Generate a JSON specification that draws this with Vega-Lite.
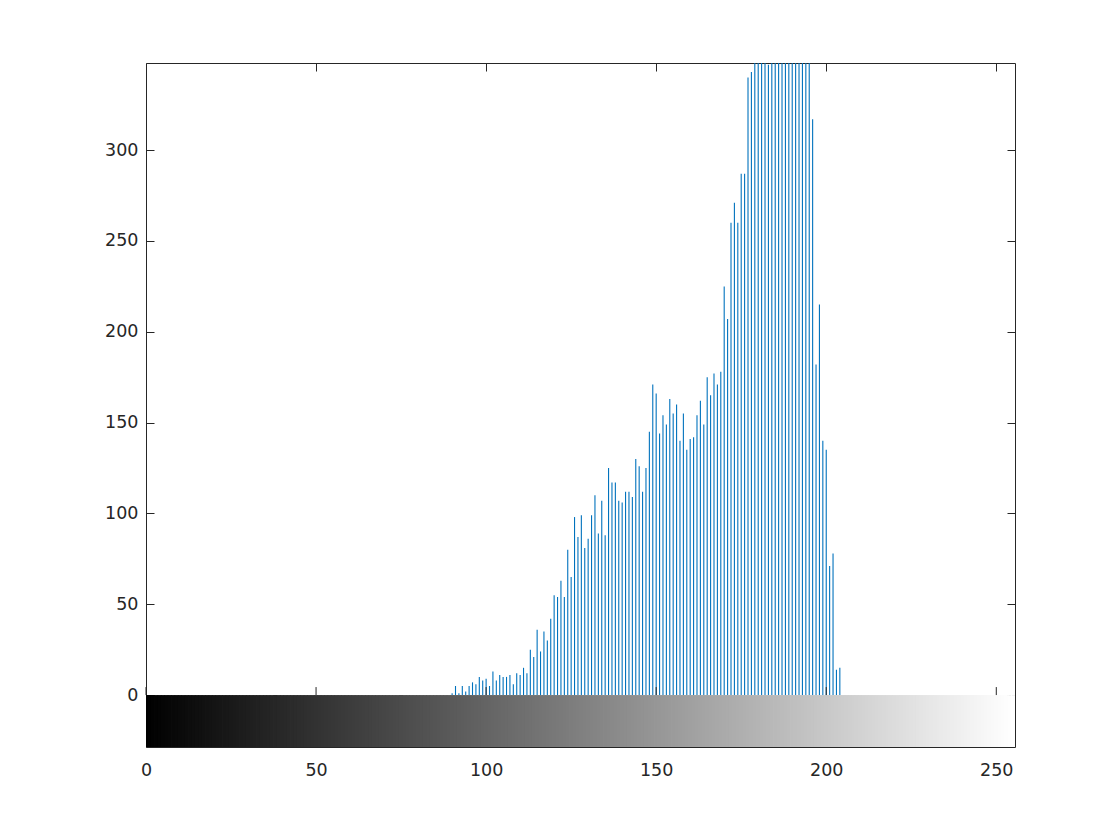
{
  "$schema": "https://vega.github.io/schema/vega-lite/v6.json",
  "autosize": {"type": "none"},
  "padding": {"left": 146, "top": 63, "right": 105, "bottom": 93},
  "width": 869,
  "height": 684,
  "background": "#ffffff",
  "config": {
    "view": {"stroke": null},
    "axis": {
      "grid": false,
      "title": null,
      "domainColor": "#262626",
      "domainWidth": 1,
      "tickColor": "#262626",
      "tickWidth": 1,
      "tickSize": -8,
      "labelColor": "#262626",
      "labelFont": "DejaVu Sans",
      "labelFontSize": 17.5,
      "labelFlush": false
    }
  },
  "datasets": {
    "h": [
      {"v":90,"c":1},{"v":91,"c":5},{"v":92,"c":1},{"v":93,"c":5},{"v":94,"c":2},{"v":95,"c":5},{"v":96,"c":7},{"v":97,"c":6},{"v":98,"c":10},{"v":99,"c":8},
      {"v":100,"c":9},{"v":101,"c":5},{"v":102,"c":13},{"v":103,"c":8},{"v":104,"c":11},{"v":105,"c":10},{"v":106,"c":10},{"v":107,"c":11},{"v":108,"c":6},{"v":109,"c":12},
      {"v":110,"c":11},{"v":111,"c":15},{"v":112,"c":12},{"v":113,"c":25},{"v":114,"c":21},{"v":115,"c":36},{"v":116,"c":24},{"v":117,"c":35},{"v":118,"c":30},{"v":119,"c":42},
      {"v":120,"c":55},{"v":121,"c":54},{"v":122,"c":63},{"v":123,"c":54},{"v":124,"c":80},{"v":125,"c":65},{"v":126,"c":98},{"v":127,"c":87},{"v":128,"c":99},{"v":129,"c":81},
      {"v":130,"c":86},{"v":131,"c":99},{"v":132,"c":110},{"v":133,"c":89},{"v":134,"c":107},{"v":135,"c":88},{"v":136,"c":125},{"v":137,"c":117},{"v":138,"c":117},{"v":139,"c":107},
      {"v":140,"c":106},{"v":141,"c":112},{"v":142,"c":112},{"v":143,"c":109},{"v":144,"c":130},{"v":145,"c":126},{"v":146,"c":112},{"v":147,"c":125},{"v":148,"c":145},{"v":149,"c":171},
      {"v":150,"c":166},{"v":151,"c":144},{"v":152,"c":154},{"v":153,"c":149},{"v":154,"c":163},{"v":155,"c":155},{"v":156,"c":160},{"v":157,"c":140},{"v":158,"c":155},{"v":159,"c":135},
      {"v":160,"c":141},{"v":161,"c":142},{"v":162,"c":154},{"v":163,"c":162},{"v":164,"c":149},{"v":165,"c":175},{"v":166,"c":165},{"v":167,"c":177},{"v":168,"c":171},{"v":169,"c":178},
      {"v":170,"c":225},{"v":171,"c":207},{"v":172,"c":260},{"v":173,"c":271},{"v":174,"c":260},{"v":175,"c":287},{"v":176,"c":287},{"v":177,"c":340},{"v":178,"c":343},{"v":179,"c":372},
      {"v":180,"c":410},{"v":181,"c":455},{"v":182,"c":398},{"v":183,"c":347},{"v":184,"c":430},{"v":185,"c":470},{"v":186,"c":510},{"v":187,"c":490},{"v":188,"c":520},{"v":189,"c":480},
      {"v":190,"c":460},{"v":191,"c":500},{"v":192,"c":440},{"v":193,"c":420},{"v":194,"c":390},{"v":195,"c":365},{"v":196,"c":317},{"v":197,"c":182},{"v":198,"c":215},{"v":199,"c":140},
      {"v":200,"c":135},{"v":201,"c":71},{"v":202,"c":78},{"v":203,"c":14},{"v":204,"c":15}
    ],
    "g": [
      {"v":0},{"v":1},{"v":2},{"v":3},{"v":4},{"v":5},{"v":6},{"v":7},{"v":8},{"v":9},{"v":10},{"v":11},{"v":12},{"v":13},{"v":14},{"v":15},
      {"v":16},{"v":17},{"v":18},{"v":19},{"v":20},{"v":21},{"v":22},{"v":23},{"v":24},{"v":25},{"v":26},{"v":27},{"v":28},{"v":29},{"v":30},{"v":31},
      {"v":32},{"v":33},{"v":34},{"v":35},{"v":36},{"v":37},{"v":38},{"v":39},{"v":40},{"v":41},{"v":42},{"v":43},{"v":44},{"v":45},{"v":46},{"v":47},
      {"v":48},{"v":49},{"v":50},{"v":51},{"v":52},{"v":53},{"v":54},{"v":55},{"v":56},{"v":57},{"v":58},{"v":59},{"v":60},{"v":61},{"v":62},{"v":63},
      {"v":64},{"v":65},{"v":66},{"v":67},{"v":68},{"v":69},{"v":70},{"v":71},{"v":72},{"v":73},{"v":74},{"v":75},{"v":76},{"v":77},{"v":78},{"v":79},
      {"v":80},{"v":81},{"v":82},{"v":83},{"v":84},{"v":85},{"v":86},{"v":87},{"v":88},{"v":89},{"v":90},{"v":91},{"v":92},{"v":93},{"v":94},{"v":95},
      {"v":96},{"v":97},{"v":98},{"v":99},{"v":100},{"v":101},{"v":102},{"v":103},{"v":104},{"v":105},{"v":106},{"v":107},{"v":108},{"v":109},{"v":110},{"v":111},
      {"v":112},{"v":113},{"v":114},{"v":115},{"v":116},{"v":117},{"v":118},{"v":119},{"v":120},{"v":121},{"v":122},{"v":123},{"v":124},{"v":125},{"v":126},{"v":127},
      {"v":128},{"v":129},{"v":130},{"v":131},{"v":132},{"v":133},{"v":134},{"v":135},{"v":136},{"v":137},{"v":138},{"v":139},{"v":140},{"v":141},{"v":142},{"v":143},
      {"v":144},{"v":145},{"v":146},{"v":147},{"v":148},{"v":149},{"v":150},{"v":151},{"v":152},{"v":153},{"v":154},{"v":155},{"v":156},{"v":157},{"v":158},{"v":159},
      {"v":160},{"v":161},{"v":162},{"v":163},{"v":164},{"v":165},{"v":166},{"v":167},{"v":168},{"v":169},{"v":170},{"v":171},{"v":172},{"v":173},{"v":174},{"v":175},
      {"v":176},{"v":177},{"v":178},{"v":179},{"v":180},{"v":181},{"v":182},{"v":183},{"v":184},{"v":185},{"v":186},{"v":187},{"v":188},{"v":189},{"v":190},{"v":191},
      {"v":192},{"v":193},{"v":194},{"v":195},{"v":196},{"v":197},{"v":198},{"v":199},{"v":200},{"v":201},{"v":202},{"v":203},{"v":204},{"v":205},{"v":206},{"v":207},
      {"v":208},{"v":209},{"v":210},{"v":211},{"v":212},{"v":213},{"v":214},{"v":215},{"v":216},{"v":217},{"v":218},{"v":219},{"v":220},{"v":221},{"v":222},{"v":223},
      {"v":224},{"v":225},{"v":226},{"v":227},{"v":228},{"v":229},{"v":230},{"v":231},{"v":232},{"v":233},{"v":234},{"v":235},{"v":236},{"v":237},{"v":238},{"v":239},
      {"v":240},{"v":241},{"v":242},{"v":243},{"v":244},{"v":245},{"v":246},{"v":247},{"v":248},{"v":249},{"v":250},{"v":251},{"v":252},{"v":253},{"v":254},{"v":255}
    ],
    "t": [{"t":0},{"t":50},{"t":100},{"t":150},{"t":200},{"t":250}]
  },
  "resolve": {"axis": {"x": "independent", "y": "independent"}},
  "layer": [
    {
      "data": {"name": "g"},
      "mark": {"type": "bar", "size": 4.2, "clip": true, "strokeWidth": 0},
      "encoding": {
        "x": {"field": "v", "type": "quantitative",
              "scale": {"domain": [0, 255.5], "nice": false, "zero": false, "padding": 0},
              "axis": {"orient": "bottom", "values": [0, 50, 100, 150, 200, 250], "labelPadding": 22, "domain": true}},
        "y": {"datum": -28.6, "type": "quantitative",
              "scale": {"domain": [-28.6, 348], "nice": false, "zero": false, "padding": 0},
              "axis": {"orient": "left", "values": [-14.3, 0, 50, 100, 150, 200, 250, 300], "labelExpr": "datum.value < 0 ? '' : datum.label", "labelPadding": 16}},
        "y2": {"datum": 0},
        "color": {"field": "v", "type": "quantitative",
                  "scale": {"domain": [0, 255], "range": ["#000000", "#ffffff"], "interpolate": "rgb"},
                  "legend": null}
      }
    },
    {
      "data": {"name": "h"},
      "mark": {"type": "rule", "clip": true, "color": "#0072BD", "strokeWidth": 1.1},
      "encoding": {
        "x": {"field": "v", "type": "quantitative",
              "axis": {"orient": "top", "values": [0, 50, 100, 150, 200, 250], "labels": false}},
        "y": {"field": "c", "type": "quantitative",
              "axis": {"orient": "right", "values": [-14.3, 0, 50, 100, 150, 200, 250, 300], "labels": false}},
        "y2": {"datum": 0}
      }
    },
    {
      "mark": {"type": "rule", "color": "#404040", "strokeWidth": 1.5},
      "encoding": {
        "y": {"datum": 0, "type": "quantitative", "axis": null}
      }
    },
    {
      "data": {"name": "t"},
      "mark": {"type": "rule", "color": "#262626", "strokeWidth": 1},
      "encoding": {
        "x": {"field": "t", "type": "quantitative", "axis": null},
        "y": {"datum": 0, "type": "quantitative", "axis": null},
        "y2": {"datum": 4.4}
      }
    }
  ]
}
